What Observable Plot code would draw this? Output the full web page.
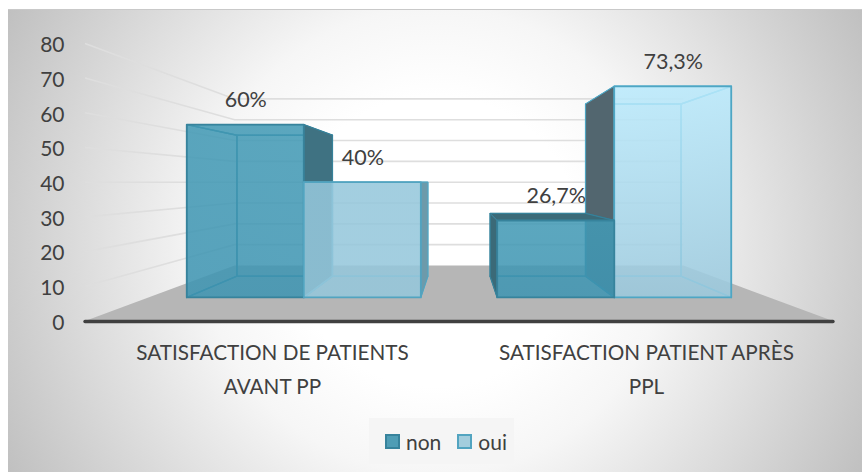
<!DOCTYPE html>
<html><head><meta charset="utf-8">
<script src="https://cdn.jsdelivr.net/npm/d3@7"></script>
<script src="https://cdn.jsdelivr.net/npm/@observablehq/plot@0.6"></script>
<style>
html,body{margin:0;padding:0;background:#fff}
#fig{position:relative;width:862px;height:472px;overflow:hidden;font-family:Lato,sans-serif;color:#404040}
#bg{position:absolute;left:8px;top:9px;right:0;bottom:0;border-top:1px solid #c9c9c9;
 background:radial-gradient(circle farthest-corner at 50% 50%,#fff 30%,#f6f6f6 48%,#c0c0c0 100%)}
#fig svg{position:relative;display:block;background:transparent}
#legend{position:relative;margin:8px 0 0 369px;width:145px;height:46px;background:#f5f5f5;display:flex;align-items:center;box-sizing:border-box;padding-left:16px;font-size:21px}
#legend i{display:inline-block;width:15px;height:15px;box-sizing:border-box;border:2px solid;margin-right:6px}
#legend span{display:inline-flex;align-items:center;margin-right:16px}
</style></head>
<body><div id="fig"><div id="bg"></div></div>
<script>
const categories = ["SATISFACTION DE PATIENTS\nAVANT PP", "SATISFACTION PATIENT APRÈS\nPPL"];
const seriesNames = ["non", "oui"];
const nonValues = [60, 26.7];
const ouiValues = [40, 73.3];
const nonLabels = ["60%", "26,7%"];
const ouiLabels = ["40%", "73,3%"];
const yTicks = [0, 10, 20, 30, 40, 50, 60, 70, 80];

const rows = categories.flatMap((category, c) => [
  {category, series: 0, value: nonValues[c], label: nonLabels[c], look: c * 2},
  {category, series: 1, value: ouiValues[c], label: ouiLabels[c], look: c * 2 + 1}
]);

// face colours: A(non,1) B(oui,1) C(non,2) D(oui,2)
const frontTop = ["#439ab5", "#95c7db", "#439ab5", "#bbebfd"];
const frontBottom = ["#3f95b2", "#95c7db", "#3f95b2", "#9bc9dd"];
const sideColors = ["#3f7282", "#6d9aaa", "#3b6a78", "#52666f"];
const edgeColors = ["#37839c", "#52a4c0", "#37839c", "#4ea6c4"];
const innerEdge = ["#2f7f99", "#5fb0cc", "#2f7f99", "#4fb0d0"];
const legendFill = ["#4f9db5", "#a3cddd"];
const legendEdge = ["#37839c", "#52a4c0"];

// view depth of each plane, toward a vanishing point on the value-40 level
const depthFront = 0.83, depthBack = 0.677, depthWall = 0.6, barShare = 0.377;
const vanish = (scales) => [(scales.x.range()[0] + scales.x.range()[1]) / 2, scales.y(40)];
const project = (v, p, s) => [v[0] + (p[0] - v[0]) * s, v[1] + (p[1] - v[1]) * s];
const svgEl = (n) => document.createElementNS("http://www.w3.org/2000/svg", n);
const poly = (pts, attrs) => {
  const e = svgEl("polygon");
  e.setAttribute("points", pts.map(p => p.join(",")).join(" "));
  for (const k in attrs) e.setAttribute(k, attrs[k]);
  return e;
};
const barEdges = (scales, d) => {
  const bw = scales.x.bandwidth(), c = scales.x(d.category) + bw / 2, w = bw * barShare;
  return [c + (d.series - 1) * w, c + d.series * w];
};

function drawBars(index, scales, values) {
  const g = svgEl("g");
  const defs = svgEl("defs");
  g.appendChild(defs);
  const v = vanish(scales);
  const order = Array.from(index).sort((a, b) => {
    const m = i => Math.abs(d3.mean(barEdges(scales, rows[i])) - v[0]);
    return m(b) - m(a);
  });
  for (const i of order) {
    const d = rows[i], k = d.look;
    const [x0, x1] = barEdges(scales, d);
    const yb = values.y1[i], yt = values.y2[i];
    const near = Math.abs(x1 - v[0]) < Math.abs(x0 - v[0]) ? x1 : x0;
    const far = near === x1 ? x0 : x1;
    const f = (x, y) => project(v, [x, y], depthFront);
    const b = (x, y) => project(v, [x, y], depthBack);
    const id = "bar" + k;
    const lg = svgEl("linearGradient");
    lg.setAttribute("id", id); lg.setAttribute("x1", 0); lg.setAttribute("x2", 0); lg.setAttribute("y1", 0); lg.setAttribute("y2", 1);
    [[0, frontTop[k]], [1, frontBottom[k]]].forEach(([o, c]) => {
      const s = svgEl("stop"); s.setAttribute("offset", o); s.setAttribute("stop-color", c); lg.appendChild(s);
    });
    defs.appendChild(lg);
    const hidden = {fill: frontBottom[k], "fill-opacity": 0.12, stroke: innerEdge[k], "stroke-width": 1.4, "stroke-linejoin": "round"};
    const exposed = {fill: sideColors[k], stroke: edgeColors[k], "stroke-width": 1, "stroke-linejoin": "round"};
    g.appendChild(poly([b(x0, yt), b(x1, yt), b(x1, yb), b(x0, yb)], hidden));
    g.appendChild(poly([f(x0, yb), f(x1, yb), b(x1, yb), b(x0, yb)], hidden));
    g.appendChild(poly([f(far, yt), b(far, yt), b(far, yb), f(far, yb)], hidden));
    g.appendChild(poly([f(x0, yt), f(x1, yt), b(x1, yt), b(x0, yt)], yt > v[1] ? exposed : (yt < v[1] ? hidden : {fill: "none"})));
    g.appendChild(poly([f(near, yt), b(near, yt), b(near, yb), f(near, yb)], exposed));
    g.appendChild(poly([f(x0, yt), f(x1, yt), f(x1, yb), f(x0, yb)],
      {fill: `url(#${id})`, "fill-opacity": 0.85, stroke: edgeColors[k], "stroke-width": 1.8, "stroke-linejoin": "round"}));
  }
  return g;
}

function drawFloor(index, scales, values) {
  const v = vanish(scales), [x0, x1] = scales.x.range(), y = values.y[index[0]];
  return poly([[x0, y], [x1, y], project(v, [x1, y], depthWall), project(v, [x0, y], depthWall)], {fill: "#b6b6b6"});
}

function drawWallGrid(index, scales, values) {
  const g = svgEl("g");
  const v = vanish(scales), [x0, x1] = scales.x.range();
  for (const i of index) {
    const y = values.y[i];
    const a = project(v, [x0, y], depthWall), b = project(v, [x1, y], depthWall);
    const p = svgEl("polyline");
    p.setAttribute("points", [[x0, y], a, b].map(q => q.join(",")).join(" "));
    p.setAttribute("fill", "none");
    p.setAttribute("stroke", "#dedede");
    p.setAttribute("stroke-width", 1.6);
    g.appendChild(p);
  }
  return g;
}

function placeLabels(index, scales, values, dims, ctx, next) {
  const v = vanish(scales), bw = scales.x.bandwidth();
  const X = Float64Array.from(values.x), Y = Float64Array.from(values.y);
  for (const i of index) {
    const p = project(v, [d3.mean(barEdges(scales, rows[i])), values.y[i]], depthFront);
    X[i] = p[0] - bw / 2; Y[i] = p[1];
  }
  return next(index, scales, {...values, x: X, y: Y}, dims, ctx);
}

const chart = Plot.plot({
  width: 862, height: 410,
  marginTop: 43.4, marginBottom: 89, marginLeft: 85, marginRight: 29,
  style: {background: "transparent", fontFamily: "Lato, sans-serif", color: "#404040"},
  x: {domain: categories, padding: 0, round: false, label: null},
  y: {domain: [0, 80], label: null},
  marks: [
    Plot.ruleY(yTicks.slice(1), {y: d => d, render: drawWallGrid}),
    Plot.ruleY([0], {y: d => d, render: drawFloor}),
    Plot.ruleY([0], {stroke: "#404040", strokeWidth: 3.4, strokeLinecap: "round"}),
    Plot.barY(rows, {x: "category", y1: 0, y2: "value", render: drawBars}),
    Plot.text(rows, {x: "category", y: "value", text: "label", dy: -24.5, fontSize: 21.5, fill: "#404040", render: placeLabels}),
    Plot.axisY({ticks: yTicks, tickSize: 0, tickPadding: 21, dy: 1.5, fontSize: 21, fill: "#404040", label: null}),
    Plot.axisX({tickSize: 0, tickPadding: 15, fontSize: 20.7, lineHeight: 1.62, fill: "#404040", label: null})
  ]
});
const fig = document.getElementById("fig");
fig.appendChild(chart);
const legend = document.createElement("div");
legend.id = "legend";
seriesNames.forEach((n, i) => {
  const s = document.createElement("span");
  const sw = document.createElement("i");
  sw.style.background = legendFill[i];
  sw.style.borderColor = legendEdge[i];
  s.appendChild(sw);
  s.appendChild(document.createTextNode(n));
  legend.appendChild(s);
});
fig.appendChild(legend);
</script></body></html>
